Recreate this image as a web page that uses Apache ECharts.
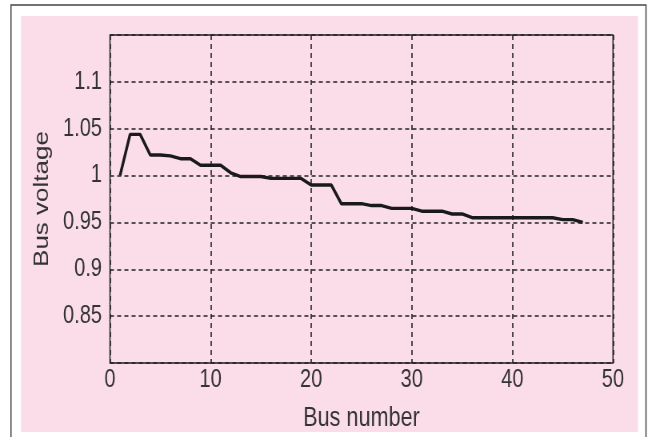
<!DOCTYPE html>
<html>
<head>
<meta charset="utf-8">
<script src="https://cdn.jsdelivr.net/npm/echarts@6/dist/echarts.min.js"></script>
<style>
html,body{margin:0;padding:0;background:#fff;overflow:hidden;}
#wrap{width:649px;height:437px;overflow:hidden;position:relative;}
#c{width:811px;height:437px;transform:scaleX(0.8);transform-origin:0 0;position:absolute;left:0;top:0;}
</style>
</head>
<body>
<div id="wrap"><div id="c"></div></div>
<script>
const busNumbers = [1,2,3,4,5,6,7,8,9,10,11,12,13,14,15,16,17,18,19,20,21,22,23,24,25,26,27,28,29,30,31,32,33,34,35,36,37,38,39,40,41,42,43,44,45,46,47];
const busVoltage = [1.000,1.044,1.044,1.022,1.022,1.021,1.018,1.018,1.011,1.011,1.011,1.003,0.999,0.999,0.999,0.997,0.997,0.997,0.997,0.990,0.990,0.990,0.970,0.970,0.970,0.968,0.968,0.965,0.965,0.965,0.962,0.962,0.962,0.959,0.959,0.955,0.955,0.955,0.955,0.955,0.955,0.955,0.955,0.955,0.953,0.953,0.950];
const xTicks = [0,10,20,30,40,50];
const yTicks = [0.85,0.9,0.95,1,1.05,1.1];

const SX = 0.8; // horizontal squeeze of the original figure
const chart = echarts.init(document.getElementById('c'), null, {renderer:'canvas'});
const font = "'Liberation Sans',Arial,sans-serif";
chart.setOption({
  animation:false,
  backgroundColor:'#ffffff',
  graphic:[
    {type:'rect', z:-10, shape:{x:11/SX,y:5,width:635/SX,height:440}, style:{fill:'#ffffff', stroke:'#444', lineWidth:1.5}},
    {type:'rect', z:-9, shape:{x:21/SX,y:16,width:617/SX,height:416}, style:{fill:'#fbdde9'}}
  ],
  grid:{left:110/SX, top:35, width:503/SX, height:335, show:true, borderColor:'#222', borderWidth:1.5, backgroundColor:'transparent'},
  xAxis:{
    type:'value', min:xTicks[0], max:xTicks[xTicks.length-1], interval:10,
    name:'Bus number', nameLocation:'middle', nameGap:42,
    nameTextStyle:{fontFamily:font, fontSize:27, color:'#333'},
    axisLine:{show:false}, axisTick:{show:false},
    axisLabel:{fontFamily:font, fontSize:25, color:'#333', margin:5},
    splitLine:{show:true, lineStyle:{type:[5,4], color:'#222', width:1.6}}
  },
  yAxis:{
    type:'value', min:0.8, max:1.15, interval:0.05,
    name:'Bus voltage', nameLocation:'middle', nameGap:72,
    nameTextStyle:{fontFamily:font, fontSize:26, color:'#333'},
    axisLine:{show:false}, axisTick:{show:false},
    axisLabel:{fontFamily:font, fontSize:25, color:'#333', margin:10, showMinLabel:false, showMaxLabel:false,
      formatter:v=>String(+v.toFixed(2))},
    splitLine:{show:true, lineStyle:{type:[5,4], color:'#222', width:1.5}}
  },
  series:[{
    type:'line', showSymbol:false,
    data: busNumbers.map((b,i)=>[b, busVoltage[i]]),
    lineStyle:{color:'#1a1a1a', width:3.4},
    itemStyle:{color:'#1a1a1a'}
  }]
});
</script>
</body>
</html>
